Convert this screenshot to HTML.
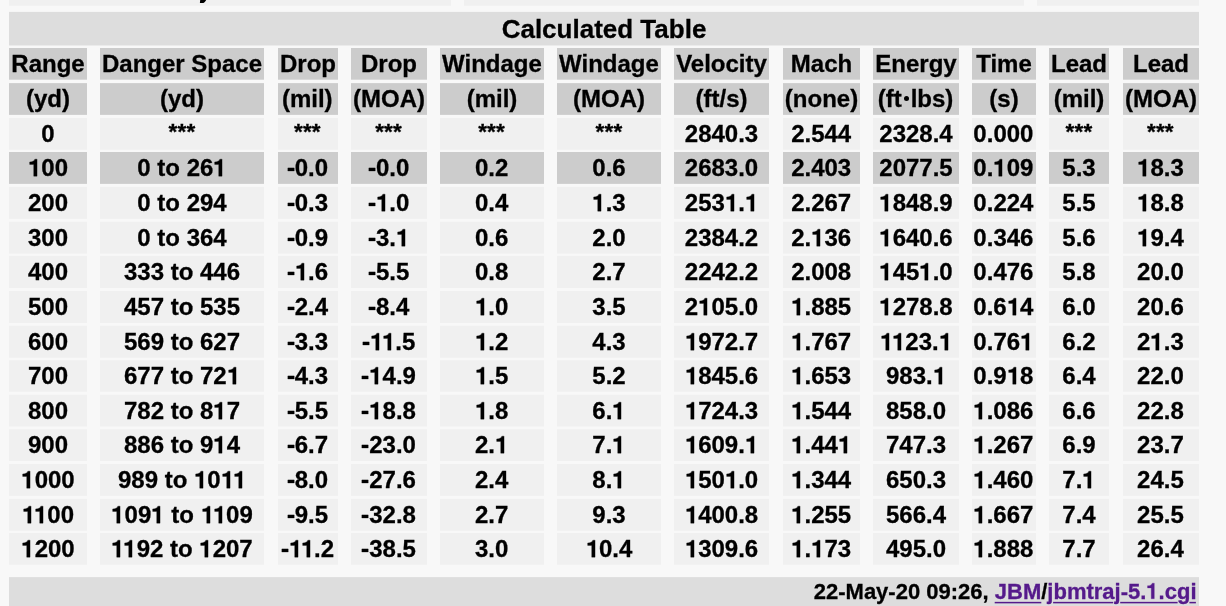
<!DOCTYPE html>
<html><head><meta charset="utf-8"><title>Calculated Table</title>
<style>
html,body{margin:0;padding:0;}
body{width:1226px;height:606px;overflow:hidden;position:relative;background:#f8f8f8;font-family:"Liberation Sans",sans-serif;font-weight:bold;color:#000;font-size:24px;line-height:normal;}
#bg{position:absolute;left:0;top:0;}
#tx{position:absolute;left:0;top:0;width:1226px;height:606px;will-change:transform;-webkit-text-stroke:0.30px currentColor;}
.c{position:absolute;box-sizing:border-box;padding:2px 0 0 0;text-align:center;white-space:nowrap;height:32px;}
.t{position:absolute;left:9px;width:1190px;box-sizing:border-box;white-space:nowrap;}
a{color:#551a8b;text-decoration:none;}
.as{font-size:22.5px;position:relative;top:-3px;letter-spacing:0.2px;}
.o{display:inline-block;width:0.556em;height:0.716em;vertical-align:baseline;overflow:visible;fill:currentColor;stroke:currentColor;stroke-width:12.5;}
.o.k{margin-left:-0.055em;}
.o.hy{width:0.333em;}
.dot{display:inline-block;width:8px;height:10px;position:relative;}
.dot i{position:absolute;left:1.2px;top:-1.2px;width:5.2px;height:5.2px;border-radius:50%;background:#000;}
</style></head><body>

<svg id="bg" width="1226" height="606" viewBox="0 0 1226 606">
<rect x="9.00" y="0.00" width="442.00" height="5.70" fill="#f0f0f0"/>
<rect x="464.00" y="0.00" width="560.00" height="5.70" fill="#f0f0f0"/>
<rect x="1037.00" y="0.00" width="162.00" height="5.70" fill="#f0f0f0"/>
<path d="M200.2 0 L206.2 0 L205.4 1.3 Q204.7 2.6 203.4 2.9 L199.9 2.9 Z" fill="#000"/>
<rect x="9.00" y="11.90" width="1190.00" height="33.60" fill="#dddddd"/>
<rect x="9.00" y="577.10" width="1190.00" height="30.00" fill="#dddddd"/>
<rect x="9.00" y="48.00" width="78.00" height="31.70" fill="#cccccc"/>
<rect x="100.00" y="48.00" width="164.00" height="31.70" fill="#cccccc"/>
<rect x="278.00" y="48.00" width="60.00" height="31.70" fill="#cccccc"/>
<rect x="351.00" y="48.00" width="76.00" height="31.70" fill="#cccccc"/>
<rect x="440.00" y="48.00" width="104.00" height="31.70" fill="#cccccc"/>
<rect x="557.00" y="48.00" width="104.00" height="31.70" fill="#cccccc"/>
<rect x="674.00" y="48.00" width="95.00" height="31.70" fill="#cccccc"/>
<rect x="783.00" y="48.00" width="77.00" height="31.70" fill="#cccccc"/>
<rect x="873.00" y="48.00" width="86.00" height="31.70" fill="#cccccc"/>
<rect x="972.00" y="48.00" width="64.00" height="31.70" fill="#cccccc"/>
<rect x="1049.00" y="48.00" width="60.00" height="31.70" fill="#cccccc"/>
<rect x="1123.00" y="48.00" width="76.00" height="31.70" fill="#cccccc"/>
<rect x="9.00" y="83.10" width="78.00" height="31.80" fill="#cccccc"/>
<rect x="100.00" y="83.10" width="164.00" height="31.80" fill="#cccccc"/>
<rect x="278.00" y="83.10" width="60.00" height="31.80" fill="#cccccc"/>
<rect x="351.00" y="83.10" width="76.00" height="31.80" fill="#cccccc"/>
<rect x="440.00" y="83.10" width="104.00" height="31.80" fill="#cccccc"/>
<rect x="557.00" y="83.10" width="104.00" height="31.80" fill="#cccccc"/>
<rect x="674.00" y="83.10" width="95.00" height="31.80" fill="#cccccc"/>
<rect x="783.00" y="83.10" width="77.00" height="31.80" fill="#cccccc"/>
<rect x="873.00" y="83.10" width="86.00" height="31.80" fill="#cccccc"/>
<rect x="972.00" y="83.10" width="64.00" height="31.80" fill="#cccccc"/>
<rect x="1049.00" y="83.10" width="60.00" height="31.80" fill="#cccccc"/>
<rect x="1123.00" y="83.10" width="76.00" height="31.80" fill="#cccccc"/>
<rect x="9.00" y="118.00" width="78.00" height="31.80" fill="#f0f0f0"/>
<rect x="100.00" y="118.00" width="164.00" height="31.80" fill="#f0f0f0"/>
<rect x="278.00" y="118.00" width="60.00" height="31.80" fill="#f0f0f0"/>
<rect x="351.00" y="118.00" width="76.00" height="31.80" fill="#f0f0f0"/>
<rect x="440.00" y="118.00" width="104.00" height="31.80" fill="#f0f0f0"/>
<rect x="557.00" y="118.00" width="104.00" height="31.80" fill="#f0f0f0"/>
<rect x="674.00" y="118.00" width="95.00" height="31.80" fill="#f0f0f0"/>
<rect x="783.00" y="118.00" width="77.00" height="31.80" fill="#f0f0f0"/>
<rect x="873.00" y="118.00" width="86.00" height="31.80" fill="#f0f0f0"/>
<rect x="972.00" y="118.00" width="64.00" height="31.80" fill="#f0f0f0"/>
<rect x="1049.00" y="118.00" width="60.00" height="31.80" fill="#f0f0f0"/>
<rect x="1123.00" y="118.00" width="76.00" height="31.80" fill="#f0f0f0"/>
<rect x="9.00" y="152.00" width="78.00" height="31.90" fill="#cccccc"/>
<rect x="100.00" y="152.00" width="164.00" height="31.90" fill="#cccccc"/>
<rect x="278.00" y="152.00" width="60.00" height="31.90" fill="#cccccc"/>
<rect x="351.00" y="152.00" width="76.00" height="31.90" fill="#cccccc"/>
<rect x="440.00" y="152.00" width="104.00" height="31.90" fill="#cccccc"/>
<rect x="557.00" y="152.00" width="104.00" height="31.90" fill="#cccccc"/>
<rect x="674.00" y="152.00" width="95.00" height="31.90" fill="#cccccc"/>
<rect x="783.00" y="152.00" width="77.00" height="31.90" fill="#cccccc"/>
<rect x="873.00" y="152.00" width="86.00" height="31.90" fill="#cccccc"/>
<rect x="972.00" y="152.00" width="64.00" height="31.90" fill="#cccccc"/>
<rect x="1049.00" y="152.00" width="60.00" height="31.90" fill="#cccccc"/>
<rect x="1123.00" y="152.00" width="76.00" height="31.90" fill="#cccccc"/>
<rect x="9.00" y="186.90" width="78.00" height="31.95" fill="#f0f0f0"/>
<rect x="100.00" y="186.90" width="164.00" height="31.95" fill="#f0f0f0"/>
<rect x="278.00" y="186.90" width="60.00" height="31.95" fill="#f0f0f0"/>
<rect x="351.00" y="186.90" width="76.00" height="31.95" fill="#f0f0f0"/>
<rect x="440.00" y="186.90" width="104.00" height="31.95" fill="#f0f0f0"/>
<rect x="557.00" y="186.90" width="104.00" height="31.95" fill="#f0f0f0"/>
<rect x="674.00" y="186.90" width="95.00" height="31.95" fill="#f0f0f0"/>
<rect x="783.00" y="186.90" width="77.00" height="31.95" fill="#f0f0f0"/>
<rect x="873.00" y="186.90" width="86.00" height="31.95" fill="#f0f0f0"/>
<rect x="972.00" y="186.90" width="64.00" height="31.95" fill="#f0f0f0"/>
<rect x="1049.00" y="186.90" width="60.00" height="31.95" fill="#f0f0f0"/>
<rect x="1123.00" y="186.90" width="76.00" height="31.95" fill="#f0f0f0"/>
<rect x="9.00" y="221.80" width="78.00" height="31.80" fill="#f0f0f0"/>
<rect x="100.00" y="221.80" width="164.00" height="31.80" fill="#f0f0f0"/>
<rect x="278.00" y="221.80" width="60.00" height="31.80" fill="#f0f0f0"/>
<rect x="351.00" y="221.80" width="76.00" height="31.80" fill="#f0f0f0"/>
<rect x="440.00" y="221.80" width="104.00" height="31.80" fill="#f0f0f0"/>
<rect x="557.00" y="221.80" width="104.00" height="31.80" fill="#f0f0f0"/>
<rect x="674.00" y="221.80" width="95.00" height="31.80" fill="#f0f0f0"/>
<rect x="783.00" y="221.80" width="77.00" height="31.80" fill="#f0f0f0"/>
<rect x="873.00" y="221.80" width="86.00" height="31.80" fill="#f0f0f0"/>
<rect x="972.00" y="221.80" width="64.00" height="31.80" fill="#f0f0f0"/>
<rect x="1049.00" y="221.80" width="60.00" height="31.80" fill="#f0f0f0"/>
<rect x="1123.00" y="221.80" width="76.00" height="31.80" fill="#f0f0f0"/>
<rect x="9.00" y="255.90" width="78.00" height="32.10" fill="#f0f0f0"/>
<rect x="100.00" y="255.90" width="164.00" height="32.10" fill="#f0f0f0"/>
<rect x="278.00" y="255.90" width="60.00" height="32.10" fill="#f0f0f0"/>
<rect x="351.00" y="255.90" width="76.00" height="32.10" fill="#f0f0f0"/>
<rect x="440.00" y="255.90" width="104.00" height="32.10" fill="#f0f0f0"/>
<rect x="557.00" y="255.90" width="104.00" height="32.10" fill="#f0f0f0"/>
<rect x="674.00" y="255.90" width="95.00" height="32.10" fill="#f0f0f0"/>
<rect x="783.00" y="255.90" width="77.00" height="32.10" fill="#f0f0f0"/>
<rect x="873.00" y="255.90" width="86.00" height="32.10" fill="#f0f0f0"/>
<rect x="972.00" y="255.90" width="64.00" height="32.10" fill="#f0f0f0"/>
<rect x="1049.00" y="255.90" width="60.00" height="32.10" fill="#f0f0f0"/>
<rect x="1123.00" y="255.90" width="76.00" height="32.10" fill="#f0f0f0"/>
<rect x="9.00" y="291.00" width="78.00" height="32.00" fill="#f0f0f0"/>
<rect x="100.00" y="291.00" width="164.00" height="32.00" fill="#f0f0f0"/>
<rect x="278.00" y="291.00" width="60.00" height="32.00" fill="#f0f0f0"/>
<rect x="351.00" y="291.00" width="76.00" height="32.00" fill="#f0f0f0"/>
<rect x="440.00" y="291.00" width="104.00" height="32.00" fill="#f0f0f0"/>
<rect x="557.00" y="291.00" width="104.00" height="32.00" fill="#f0f0f0"/>
<rect x="674.00" y="291.00" width="95.00" height="32.00" fill="#f0f0f0"/>
<rect x="783.00" y="291.00" width="77.00" height="32.00" fill="#f0f0f0"/>
<rect x="873.00" y="291.00" width="86.00" height="32.00" fill="#f0f0f0"/>
<rect x="972.00" y="291.00" width="64.00" height="32.00" fill="#f0f0f0"/>
<rect x="1049.00" y="291.00" width="60.00" height="32.00" fill="#f0f0f0"/>
<rect x="1123.00" y="291.00" width="76.00" height="32.00" fill="#f0f0f0"/>
<rect x="9.00" y="325.70" width="78.00" height="32.10" fill="#f0f0f0"/>
<rect x="100.00" y="325.70" width="164.00" height="32.10" fill="#f0f0f0"/>
<rect x="278.00" y="325.70" width="60.00" height="32.10" fill="#f0f0f0"/>
<rect x="351.00" y="325.70" width="76.00" height="32.10" fill="#f0f0f0"/>
<rect x="440.00" y="325.70" width="104.00" height="32.10" fill="#f0f0f0"/>
<rect x="557.00" y="325.70" width="104.00" height="32.10" fill="#f0f0f0"/>
<rect x="674.00" y="325.70" width="95.00" height="32.10" fill="#f0f0f0"/>
<rect x="783.00" y="325.70" width="77.00" height="32.10" fill="#f0f0f0"/>
<rect x="873.00" y="325.70" width="86.00" height="32.10" fill="#f0f0f0"/>
<rect x="972.00" y="325.70" width="64.00" height="32.10" fill="#f0f0f0"/>
<rect x="1049.00" y="325.70" width="60.00" height="32.10" fill="#f0f0f0"/>
<rect x="1123.00" y="325.70" width="76.00" height="32.10" fill="#f0f0f0"/>
<rect x="9.00" y="360.20" width="78.00" height="31.60" fill="#f0f0f0"/>
<rect x="100.00" y="360.20" width="164.00" height="31.60" fill="#f0f0f0"/>
<rect x="278.00" y="360.20" width="60.00" height="31.60" fill="#f0f0f0"/>
<rect x="351.00" y="360.20" width="76.00" height="31.60" fill="#f0f0f0"/>
<rect x="440.00" y="360.20" width="104.00" height="31.60" fill="#f0f0f0"/>
<rect x="557.00" y="360.20" width="104.00" height="31.60" fill="#f0f0f0"/>
<rect x="674.00" y="360.20" width="95.00" height="31.60" fill="#f0f0f0"/>
<rect x="783.00" y="360.20" width="77.00" height="31.60" fill="#f0f0f0"/>
<rect x="873.00" y="360.20" width="86.00" height="31.60" fill="#f0f0f0"/>
<rect x="972.00" y="360.20" width="64.00" height="31.60" fill="#f0f0f0"/>
<rect x="1049.00" y="360.20" width="60.00" height="31.60" fill="#f0f0f0"/>
<rect x="1123.00" y="360.20" width="76.00" height="31.60" fill="#f0f0f0"/>
<rect x="9.00" y="394.75" width="78.00" height="31.75" fill="#f0f0f0"/>
<rect x="100.00" y="394.75" width="164.00" height="31.75" fill="#f0f0f0"/>
<rect x="278.00" y="394.75" width="60.00" height="31.75" fill="#f0f0f0"/>
<rect x="351.00" y="394.75" width="76.00" height="31.75" fill="#f0f0f0"/>
<rect x="440.00" y="394.75" width="104.00" height="31.75" fill="#f0f0f0"/>
<rect x="557.00" y="394.75" width="104.00" height="31.75" fill="#f0f0f0"/>
<rect x="674.00" y="394.75" width="95.00" height="31.75" fill="#f0f0f0"/>
<rect x="783.00" y="394.75" width="77.00" height="31.75" fill="#f0f0f0"/>
<rect x="873.00" y="394.75" width="86.00" height="31.75" fill="#f0f0f0"/>
<rect x="972.00" y="394.75" width="64.00" height="31.75" fill="#f0f0f0"/>
<rect x="1049.00" y="394.75" width="60.00" height="31.75" fill="#f0f0f0"/>
<rect x="1123.00" y="394.75" width="76.00" height="31.75" fill="#f0f0f0"/>
<rect x="9.00" y="429.30" width="78.00" height="31.70" fill="#f0f0f0"/>
<rect x="100.00" y="429.30" width="164.00" height="31.70" fill="#f0f0f0"/>
<rect x="278.00" y="429.30" width="60.00" height="31.70" fill="#f0f0f0"/>
<rect x="351.00" y="429.30" width="76.00" height="31.70" fill="#f0f0f0"/>
<rect x="440.00" y="429.30" width="104.00" height="31.70" fill="#f0f0f0"/>
<rect x="557.00" y="429.30" width="104.00" height="31.70" fill="#f0f0f0"/>
<rect x="674.00" y="429.30" width="95.00" height="31.70" fill="#f0f0f0"/>
<rect x="783.00" y="429.30" width="77.00" height="31.70" fill="#f0f0f0"/>
<rect x="873.00" y="429.30" width="86.00" height="31.70" fill="#f0f0f0"/>
<rect x="972.00" y="429.30" width="64.00" height="31.70" fill="#f0f0f0"/>
<rect x="1049.00" y="429.30" width="60.00" height="31.70" fill="#f0f0f0"/>
<rect x="1123.00" y="429.30" width="76.00" height="31.70" fill="#f0f0f0"/>
<rect x="9.00" y="464.00" width="78.00" height="31.90" fill="#f0f0f0"/>
<rect x="100.00" y="464.00" width="164.00" height="31.90" fill="#f0f0f0"/>
<rect x="278.00" y="464.00" width="60.00" height="31.90" fill="#f0f0f0"/>
<rect x="351.00" y="464.00" width="76.00" height="31.90" fill="#f0f0f0"/>
<rect x="440.00" y="464.00" width="104.00" height="31.90" fill="#f0f0f0"/>
<rect x="557.00" y="464.00" width="104.00" height="31.90" fill="#f0f0f0"/>
<rect x="674.00" y="464.00" width="95.00" height="31.90" fill="#f0f0f0"/>
<rect x="783.00" y="464.00" width="77.00" height="31.90" fill="#f0f0f0"/>
<rect x="873.00" y="464.00" width="86.00" height="31.90" fill="#f0f0f0"/>
<rect x="972.00" y="464.00" width="64.00" height="31.90" fill="#f0f0f0"/>
<rect x="1049.00" y="464.00" width="60.00" height="31.90" fill="#f0f0f0"/>
<rect x="1123.00" y="464.00" width="76.00" height="31.90" fill="#f0f0f0"/>
<rect x="9.00" y="498.90" width="78.00" height="31.85" fill="#f0f0f0"/>
<rect x="100.00" y="498.90" width="164.00" height="31.85" fill="#f0f0f0"/>
<rect x="278.00" y="498.90" width="60.00" height="31.85" fill="#f0f0f0"/>
<rect x="351.00" y="498.90" width="76.00" height="31.85" fill="#f0f0f0"/>
<rect x="440.00" y="498.90" width="104.00" height="31.85" fill="#f0f0f0"/>
<rect x="557.00" y="498.90" width="104.00" height="31.85" fill="#f0f0f0"/>
<rect x="674.00" y="498.90" width="95.00" height="31.85" fill="#f0f0f0"/>
<rect x="783.00" y="498.90" width="77.00" height="31.85" fill="#f0f0f0"/>
<rect x="873.00" y="498.90" width="86.00" height="31.85" fill="#f0f0f0"/>
<rect x="972.00" y="498.90" width="64.00" height="31.85" fill="#f0f0f0"/>
<rect x="1049.00" y="498.90" width="60.00" height="31.85" fill="#f0f0f0"/>
<rect x="1123.00" y="498.90" width="76.00" height="31.85" fill="#f0f0f0"/>
<rect x="9.00" y="533.00" width="78.00" height="31.70" fill="#f0f0f0"/>
<rect x="100.00" y="533.00" width="164.00" height="31.70" fill="#f0f0f0"/>
<rect x="278.00" y="533.00" width="60.00" height="31.70" fill="#f0f0f0"/>
<rect x="351.00" y="533.00" width="76.00" height="31.70" fill="#f0f0f0"/>
<rect x="440.00" y="533.00" width="104.00" height="31.70" fill="#f0f0f0"/>
<rect x="557.00" y="533.00" width="104.00" height="31.70" fill="#f0f0f0"/>
<rect x="674.00" y="533.00" width="95.00" height="31.70" fill="#f0f0f0"/>
<rect x="783.00" y="533.00" width="77.00" height="31.70" fill="#f0f0f0"/>
<rect x="873.00" y="533.00" width="86.00" height="31.70" fill="#f0f0f0"/>
<rect x="972.00" y="533.00" width="64.00" height="31.70" fill="#f0f0f0"/>
<rect x="1049.00" y="533.00" width="60.00" height="31.70" fill="#f0f0f0"/>
<rect x="1123.00" y="533.00" width="76.00" height="31.70" fill="#f0f0f0"/>
<rect x="994.70" y="601.85" width="46.60" height="1.50" fill="#551a8b"/>
<rect x="1053.10" y="601.85" width="60.10" height="1.50" fill="#551a8b"/>
<rect x="1120.20" y="601.85" width="57.40" height="1.50" fill="#551a8b"/>
<rect x="1189.40" y="601.85" width="6.50" height="1.50" fill="#551a8b"/>
</svg>
<div id="tx">
<div class="t" style="top:12px;height:33.5px;font-size:26px;text-align:center;padding-top:2px;">Calculated Table</div>
<div class="c" style="left:9.00px;top:48.00px;width:78px">Range</div>
<div class="c" style="left:100.00px;top:48.00px;width:164px">Danger Space</div>
<div class="c" style="left:278.00px;top:48.00px;width:60px">Drop</div>
<div class="c" style="left:351.00px;top:48.00px;width:76px">Drop</div>
<div class="c" style="left:440.00px;top:48.00px;width:104px">Windage</div>
<div class="c" style="left:557.00px;top:48.00px;width:104px">Windage</div>
<div class="c" style="left:674.00px;top:48.00px;width:95px">Velocity</div>
<div class="c" style="left:783.00px;top:48.00px;width:77px">Mach</div>
<div class="c" style="left:873.00px;top:48.00px;width:86px">Energy</div>
<div class="c" style="left:972.00px;top:48.00px;width:64px">Time</div>
<div class="c" style="left:1049.00px;top:48.00px;width:60px">Lead</div>
<div class="c" style="left:1123.00px;top:48.00px;width:76px">Lead</div>
<div class="c" style="left:9.00px;top:83.00px;width:78px">(yd)</div>
<div class="c" style="left:100.00px;top:83.00px;width:164px">(yd)</div>
<div class="c" style="left:277.30px;top:83.00px;width:60px">(mil)</div>
<div class="c" style="left:351.00px;top:83.00px;width:76px">(MOA)</div>
<div class="c" style="left:440.00px;top:83.00px;width:104px">(mil)</div>
<div class="c" style="left:557.00px;top:83.00px;width:104px">(MOA)</div>
<div class="c" style="left:674.00px;top:83.00px;width:95px">(ft/s)</div>
<div class="c" style="left:783.00px;top:83.00px;width:77px">(none)</div>
<div class="c" style="left:873.00px;top:83.00px;width:86px"><span style="position:relative;left:-0.9px">(ft</span><span class="dot"><i></i></span>lbs)</div>
<div class="c" style="left:972.00px;top:83.00px;width:64px">(s)</div>
<div class="c" style="left:1049.00px;top:83.00px;width:60px">(mil)</div>
<div class="c" style="left:1123.00px;top:83.00px;width:76px">(MOA)</div>
<div class="c" style="left:9.00px;top:118.00px;width:78px">0</div>
<div class="c" style="left:100.00px;top:118.00px;width:164px"><span class="as">***</span></div>
<div class="c" style="left:277.40px;top:118.00px;width:60px"><span class="as">***</span></div>
<div class="c" style="left:350.60px;top:118.00px;width:76px"><span class="as">***</span></div>
<div class="c" style="left:439.60px;top:118.00px;width:104px"><span class="as">***</span></div>
<div class="c" style="left:557.00px;top:118.00px;width:104px"><span class="as">***</span></div>
<div class="c" style="left:674.00px;top:118.00px;width:95px">2840.3</div>
<div class="c" style="left:782.70px;top:118.00px;width:77px">2.544</div>
<div class="c" style="left:873.00px;top:118.00px;width:86px">2328.4</div>
<div class="c" style="left:971.40px;top:118.00px;width:64px">0.000</div>
<div class="c" style="left:1049.00px;top:118.00px;width:60px"><span class="as">***</span></div>
<div class="c" style="left:1122.40px;top:118.00px;width:76px"><span class="as">***</span></div>
<div class="c" style="left:9.00px;top:152.00px;width:78px"><svg class="o" viewBox="0 -716 556 716"><path d="M286 -710 L378 -710 L378 0 L238 0 L238 -491 L69 -491 L69 -592 C186 -594 258 -636 286 -710 Z"/></svg>00</div>
<div class="c" style="left:100.00px;top:152.00px;width:164px">0 to 26<svg class="o" viewBox="0 -716 556 716"><path d="M286 -710 L378 -710 L378 0 L238 0 L238 -491 L69 -491 L69 -592 C186 -594 258 -636 286 -710 Z"/></svg></div>
<div class="c" style="left:277.40px;top:152.00px;width:60px"><svg class="o hy" viewBox="0 -716 333 716"><path d="M34 -345 H302 V-215 H34 Z"/></svg>0.0</div>
<div class="c" style="left:350.60px;top:152.00px;width:76px"><svg class="o hy" viewBox="0 -716 333 716"><path d="M34 -345 H302 V-215 H34 Z"/></svg>0.0</div>
<div class="c" style="left:439.60px;top:152.00px;width:104px">0.2</div>
<div class="c" style="left:557.00px;top:152.00px;width:104px">0.6</div>
<div class="c" style="left:674.00px;top:152.00px;width:95px">2683.0</div>
<div class="c" style="left:782.70px;top:152.00px;width:77px">2.403</div>
<div class="c" style="left:873.00px;top:152.00px;width:86px">2077.5</div>
<div class="c" style="left:971.40px;top:152.00px;width:64px">0.<svg class="o" viewBox="0 -716 556 716"><path d="M286 -710 L378 -710 L378 0 L238 0 L238 -491 L69 -491 L69 -592 C186 -594 258 -636 286 -710 Z"/></svg>09</div>
<div class="c" style="left:1049.00px;top:152.00px;width:60px">5.3</div>
<div class="c" style="left:1122.40px;top:152.00px;width:76px"><svg class="o" viewBox="0 -716 556 716"><path d="M286 -710 L378 -710 L378 0 L238 0 L238 -491 L69 -491 L69 -592 C186 -594 258 -636 286 -710 Z"/></svg>8.3</div>
<div class="c" style="left:9.00px;top:187.00px;width:78px">200</div>
<div class="c" style="left:100.00px;top:187.00px;width:164px">0 to 294</div>
<div class="c" style="left:277.40px;top:187.00px;width:60px"><svg class="o hy" viewBox="0 -716 333 716"><path d="M34 -345 H302 V-215 H34 Z"/></svg>0.3</div>
<div class="c" style="left:350.60px;top:187.00px;width:76px"><svg class="o hy" viewBox="0 -716 333 716"><path d="M34 -345 H302 V-215 H34 Z"/></svg><svg class="o" viewBox="0 -716 556 716"><path d="M286 -710 L378 -710 L378 0 L238 0 L238 -491 L69 -491 L69 -592 C186 -594 258 -636 286 -710 Z"/></svg>.0</div>
<div class="c" style="left:439.60px;top:187.00px;width:104px">0.4</div>
<div class="c" style="left:557.00px;top:187.00px;width:104px"><svg class="o" viewBox="0 -716 556 716"><path d="M286 -710 L378 -710 L378 0 L238 0 L238 -491 L69 -491 L69 -592 C186 -594 258 -636 286 -710 Z"/></svg>.3</div>
<div class="c" style="left:674.00px;top:187.00px;width:95px">253<svg class="o" viewBox="0 -716 556 716"><path d="M286 -710 L378 -710 L378 0 L238 0 L238 -491 L69 -491 L69 -592 C186 -594 258 -636 286 -710 Z"/></svg>.<svg class="o" viewBox="0 -716 556 716"><path d="M286 -710 L378 -710 L378 0 L238 0 L238 -491 L69 -491 L69 -592 C186 -594 258 -636 286 -710 Z"/></svg></div>
<div class="c" style="left:782.70px;top:187.00px;width:77px">2.267</div>
<div class="c" style="left:873.00px;top:187.00px;width:86px"><svg class="o" viewBox="0 -716 556 716"><path d="M286 -710 L378 -710 L378 0 L238 0 L238 -491 L69 -491 L69 -592 C186 -594 258 -636 286 -710 Z"/></svg>848.9</div>
<div class="c" style="left:971.40px;top:187.00px;width:64px">0.224</div>
<div class="c" style="left:1049.00px;top:187.00px;width:60px">5.5</div>
<div class="c" style="left:1122.40px;top:187.00px;width:76px"><svg class="o" viewBox="0 -716 556 716"><path d="M286 -710 L378 -710 L378 0 L238 0 L238 -491 L69 -491 L69 -592 C186 -594 258 -636 286 -710 Z"/></svg>8.8</div>
<div class="c" style="left:9.00px;top:222.00px;width:78px">300</div>
<div class="c" style="left:100.00px;top:222.00px;width:164px">0 to 364</div>
<div class="c" style="left:277.40px;top:222.00px;width:60px"><svg class="o hy" viewBox="0 -716 333 716"><path d="M34 -345 H302 V-215 H34 Z"/></svg>0.9</div>
<div class="c" style="left:350.60px;top:222.00px;width:76px"><svg class="o hy" viewBox="0 -716 333 716"><path d="M34 -345 H302 V-215 H34 Z"/></svg>3.<svg class="o" viewBox="0 -716 556 716"><path d="M286 -710 L378 -710 L378 0 L238 0 L238 -491 L69 -491 L69 -592 C186 -594 258 -636 286 -710 Z"/></svg></div>
<div class="c" style="left:439.60px;top:222.00px;width:104px">0.6</div>
<div class="c" style="left:557.00px;top:222.00px;width:104px">2.0</div>
<div class="c" style="left:674.00px;top:222.00px;width:95px">2384.2</div>
<div class="c" style="left:782.70px;top:222.00px;width:77px">2.<svg class="o" viewBox="0 -716 556 716"><path d="M286 -710 L378 -710 L378 0 L238 0 L238 -491 L69 -491 L69 -592 C186 -594 258 -636 286 -710 Z"/></svg>36</div>
<div class="c" style="left:873.00px;top:222.00px;width:86px"><svg class="o" viewBox="0 -716 556 716"><path d="M286 -710 L378 -710 L378 0 L238 0 L238 -491 L69 -491 L69 -592 C186 -594 258 -636 286 -710 Z"/></svg>640.6</div>
<div class="c" style="left:971.40px;top:222.00px;width:64px">0.346</div>
<div class="c" style="left:1049.00px;top:222.00px;width:60px">5.6</div>
<div class="c" style="left:1122.40px;top:222.00px;width:76px"><svg class="o" viewBox="0 -716 556 716"><path d="M286 -710 L378 -710 L378 0 L238 0 L238 -491 L69 -491 L69 -592 C186 -594 258 -636 286 -710 Z"/></svg>9.4</div>
<div class="c" style="left:9.00px;top:256.00px;width:78px">400</div>
<div class="c" style="left:100.00px;top:256.00px;width:164px">333 to 446</div>
<div class="c" style="left:277.40px;top:256.00px;width:60px"><svg class="o hy" viewBox="0 -716 333 716"><path d="M34 -345 H302 V-215 H34 Z"/></svg><svg class="o" viewBox="0 -716 556 716"><path d="M286 -710 L378 -710 L378 0 L238 0 L238 -491 L69 -491 L69 -592 C186 -594 258 -636 286 -710 Z"/></svg>.6</div>
<div class="c" style="left:350.60px;top:256.00px;width:76px"><svg class="o hy" viewBox="0 -716 333 716"><path d="M34 -345 H302 V-215 H34 Z"/></svg>5.5</div>
<div class="c" style="left:439.60px;top:256.00px;width:104px">0.8</div>
<div class="c" style="left:557.00px;top:256.00px;width:104px">2.7</div>
<div class="c" style="left:674.00px;top:256.00px;width:95px">2242.2</div>
<div class="c" style="left:782.70px;top:256.00px;width:77px">2.008</div>
<div class="c" style="left:873.00px;top:256.00px;width:86px"><svg class="o" viewBox="0 -716 556 716"><path d="M286 -710 L378 -710 L378 0 L238 0 L238 -491 L69 -491 L69 -592 C186 -594 258 -636 286 -710 Z"/></svg>45<svg class="o" viewBox="0 -716 556 716"><path d="M286 -710 L378 -710 L378 0 L238 0 L238 -491 L69 -491 L69 -592 C186 -594 258 -636 286 -710 Z"/></svg>.0</div>
<div class="c" style="left:971.40px;top:256.00px;width:64px">0.476</div>
<div class="c" style="left:1049.00px;top:256.00px;width:60px">5.8</div>
<div class="c" style="left:1122.40px;top:256.00px;width:76px">20.0</div>
<div class="c" style="left:9.00px;top:291.00px;width:78px">500</div>
<div class="c" style="left:100.00px;top:291.00px;width:164px">457 to 535</div>
<div class="c" style="left:277.40px;top:291.00px;width:60px"><svg class="o hy" viewBox="0 -716 333 716"><path d="M34 -345 H302 V-215 H34 Z"/></svg>2.4</div>
<div class="c" style="left:350.60px;top:291.00px;width:76px"><svg class="o hy" viewBox="0 -716 333 716"><path d="M34 -345 H302 V-215 H34 Z"/></svg>8.4</div>
<div class="c" style="left:439.60px;top:291.00px;width:104px"><svg class="o" viewBox="0 -716 556 716"><path d="M286 -710 L378 -710 L378 0 L238 0 L238 -491 L69 -491 L69 -592 C186 -594 258 -636 286 -710 Z"/></svg>.0</div>
<div class="c" style="left:557.00px;top:291.00px;width:104px">3.5</div>
<div class="c" style="left:674.00px;top:291.00px;width:95px">2<svg class="o" viewBox="0 -716 556 716"><path d="M286 -710 L378 -710 L378 0 L238 0 L238 -491 L69 -491 L69 -592 C186 -594 258 -636 286 -710 Z"/></svg>05.0</div>
<div class="c" style="left:782.70px;top:291.00px;width:77px"><svg class="o" viewBox="0 -716 556 716"><path d="M286 -710 L378 -710 L378 0 L238 0 L238 -491 L69 -491 L69 -592 C186 -594 258 -636 286 -710 Z"/></svg>.885</div>
<div class="c" style="left:873.00px;top:291.00px;width:86px"><svg class="o" viewBox="0 -716 556 716"><path d="M286 -710 L378 -710 L378 0 L238 0 L238 -491 L69 -491 L69 -592 C186 -594 258 -636 286 -710 Z"/></svg>278.8</div>
<div class="c" style="left:971.40px;top:291.00px;width:64px">0.6<svg class="o" viewBox="0 -716 556 716"><path d="M286 -710 L378 -710 L378 0 L238 0 L238 -491 L69 -491 L69 -592 C186 -594 258 -636 286 -710 Z"/></svg>4</div>
<div class="c" style="left:1049.00px;top:291.00px;width:60px">6.0</div>
<div class="c" style="left:1122.40px;top:291.00px;width:76px">20.6</div>
<div class="c" style="left:9.00px;top:326.00px;width:78px">600</div>
<div class="c" style="left:100.00px;top:326.00px;width:164px">569 to 627</div>
<div class="c" style="left:277.40px;top:326.00px;width:60px"><svg class="o hy" viewBox="0 -716 333 716"><path d="M34 -345 H302 V-215 H34 Z"/></svg>3.3</div>
<div class="c" style="left:350.60px;top:326.00px;width:76px"><svg class="o hy" viewBox="0 -716 333 716"><path d="M34 -345 H302 V-215 H34 Z"/></svg><svg class="o" viewBox="0 -716 556 716"><path d="M286 -710 L378 -710 L378 0 L238 0 L238 -491 L69 -491 L69 -592 C186 -594 258 -636 286 -710 Z"/></svg><svg class="o k" viewBox="0 -716 556 716"><path d="M286 -710 L378 -710 L378 0 L238 0 L238 -491 L69 -491 L69 -592 C186 -594 258 -636 286 -710 Z"/></svg>.5</div>
<div class="c" style="left:439.60px;top:326.00px;width:104px"><svg class="o" viewBox="0 -716 556 716"><path d="M286 -710 L378 -710 L378 0 L238 0 L238 -491 L69 -491 L69 -592 C186 -594 258 -636 286 -710 Z"/></svg>.2</div>
<div class="c" style="left:557.00px;top:326.00px;width:104px">4.3</div>
<div class="c" style="left:674.00px;top:326.00px;width:95px"><svg class="o" viewBox="0 -716 556 716"><path d="M286 -710 L378 -710 L378 0 L238 0 L238 -491 L69 -491 L69 -592 C186 -594 258 -636 286 -710 Z"/></svg>972.7</div>
<div class="c" style="left:782.70px;top:326.00px;width:77px"><svg class="o" viewBox="0 -716 556 716"><path d="M286 -710 L378 -710 L378 0 L238 0 L238 -491 L69 -491 L69 -592 C186 -594 258 -636 286 -710 Z"/></svg>.767</div>
<div class="c" style="left:873.00px;top:326.00px;width:86px"><svg class="o" viewBox="0 -716 556 716"><path d="M286 -710 L378 -710 L378 0 L238 0 L238 -491 L69 -491 L69 -592 C186 -594 258 -636 286 -710 Z"/></svg><svg class="o k" viewBox="0 -716 556 716"><path d="M286 -710 L378 -710 L378 0 L238 0 L238 -491 L69 -491 L69 -592 C186 -594 258 -636 286 -710 Z"/></svg>23.<svg class="o" viewBox="0 -716 556 716"><path d="M286 -710 L378 -710 L378 0 L238 0 L238 -491 L69 -491 L69 -592 C186 -594 258 -636 286 -710 Z"/></svg></div>
<div class="c" style="left:971.40px;top:326.00px;width:64px">0.76<svg class="o" viewBox="0 -716 556 716"><path d="M286 -710 L378 -710 L378 0 L238 0 L238 -491 L69 -491 L69 -592 C186 -594 258 -636 286 -710 Z"/></svg></div>
<div class="c" style="left:1049.00px;top:326.00px;width:60px">6.2</div>
<div class="c" style="left:1122.40px;top:326.00px;width:76px">2<svg class="o" viewBox="0 -716 556 716"><path d="M286 -710 L378 -710 L378 0 L238 0 L238 -491 L69 -491 L69 -592 C186 -594 258 -636 286 -710 Z"/></svg>.3</div>
<div class="c" style="left:9.00px;top:360.00px;width:78px">700</div>
<div class="c" style="left:100.00px;top:360.00px;width:164px">677 to 72<svg class="o" viewBox="0 -716 556 716"><path d="M286 -710 L378 -710 L378 0 L238 0 L238 -491 L69 -491 L69 -592 C186 -594 258 -636 286 -710 Z"/></svg></div>
<div class="c" style="left:277.40px;top:360.00px;width:60px"><svg class="o hy" viewBox="0 -716 333 716"><path d="M34 -345 H302 V-215 H34 Z"/></svg>4.3</div>
<div class="c" style="left:350.60px;top:360.00px;width:76px"><svg class="o hy" viewBox="0 -716 333 716"><path d="M34 -345 H302 V-215 H34 Z"/></svg><svg class="o" viewBox="0 -716 556 716"><path d="M286 -710 L378 -710 L378 0 L238 0 L238 -491 L69 -491 L69 -592 C186 -594 258 -636 286 -710 Z"/></svg>4.9</div>
<div class="c" style="left:439.60px;top:360.00px;width:104px"><svg class="o" viewBox="0 -716 556 716"><path d="M286 -710 L378 -710 L378 0 L238 0 L238 -491 L69 -491 L69 -592 C186 -594 258 -636 286 -710 Z"/></svg>.5</div>
<div class="c" style="left:557.00px;top:360.00px;width:104px">5.2</div>
<div class="c" style="left:674.00px;top:360.00px;width:95px"><svg class="o" viewBox="0 -716 556 716"><path d="M286 -710 L378 -710 L378 0 L238 0 L238 -491 L69 -491 L69 -592 C186 -594 258 -636 286 -710 Z"/></svg>845.6</div>
<div class="c" style="left:782.70px;top:360.00px;width:77px"><svg class="o" viewBox="0 -716 556 716"><path d="M286 -710 L378 -710 L378 0 L238 0 L238 -491 L69 -491 L69 -592 C186 -594 258 -636 286 -710 Z"/></svg>.653</div>
<div class="c" style="left:873.00px;top:360.00px;width:86px">983.<svg class="o" viewBox="0 -716 556 716"><path d="M286 -710 L378 -710 L378 0 L238 0 L238 -491 L69 -491 L69 -592 C186 -594 258 -636 286 -710 Z"/></svg></div>
<div class="c" style="left:971.40px;top:360.00px;width:64px">0.9<svg class="o" viewBox="0 -716 556 716"><path d="M286 -710 L378 -710 L378 0 L238 0 L238 -491 L69 -491 L69 -592 C186 -594 258 -636 286 -710 Z"/></svg>8</div>
<div class="c" style="left:1049.00px;top:360.00px;width:60px">6.4</div>
<div class="c" style="left:1122.40px;top:360.00px;width:76px">22.0</div>
<div class="c" style="left:9.00px;top:395.00px;width:78px">800</div>
<div class="c" style="left:100.00px;top:395.00px;width:164px">782 to 8<svg class="o" viewBox="0 -716 556 716"><path d="M286 -710 L378 -710 L378 0 L238 0 L238 -491 L69 -491 L69 -592 C186 -594 258 -636 286 -710 Z"/></svg>7</div>
<div class="c" style="left:277.40px;top:395.00px;width:60px"><svg class="o hy" viewBox="0 -716 333 716"><path d="M34 -345 H302 V-215 H34 Z"/></svg>5.5</div>
<div class="c" style="left:350.60px;top:395.00px;width:76px"><svg class="o hy" viewBox="0 -716 333 716"><path d="M34 -345 H302 V-215 H34 Z"/></svg><svg class="o" viewBox="0 -716 556 716"><path d="M286 -710 L378 -710 L378 0 L238 0 L238 -491 L69 -491 L69 -592 C186 -594 258 -636 286 -710 Z"/></svg>8.8</div>
<div class="c" style="left:439.60px;top:395.00px;width:104px"><svg class="o" viewBox="0 -716 556 716"><path d="M286 -710 L378 -710 L378 0 L238 0 L238 -491 L69 -491 L69 -592 C186 -594 258 -636 286 -710 Z"/></svg>.8</div>
<div class="c" style="left:557.00px;top:395.00px;width:104px">6.<svg class="o" viewBox="0 -716 556 716"><path d="M286 -710 L378 -710 L378 0 L238 0 L238 -491 L69 -491 L69 -592 C186 -594 258 -636 286 -710 Z"/></svg></div>
<div class="c" style="left:674.00px;top:395.00px;width:95px"><svg class="o" viewBox="0 -716 556 716"><path d="M286 -710 L378 -710 L378 0 L238 0 L238 -491 L69 -491 L69 -592 C186 -594 258 -636 286 -710 Z"/></svg>724.3</div>
<div class="c" style="left:782.70px;top:395.00px;width:77px"><svg class="o" viewBox="0 -716 556 716"><path d="M286 -710 L378 -710 L378 0 L238 0 L238 -491 L69 -491 L69 -592 C186 -594 258 -636 286 -710 Z"/></svg>.544</div>
<div class="c" style="left:873.00px;top:395.00px;width:86px">858.0</div>
<div class="c" style="left:971.40px;top:395.00px;width:64px"><svg class="o" viewBox="0 -716 556 716"><path d="M286 -710 L378 -710 L378 0 L238 0 L238 -491 L69 -491 L69 -592 C186 -594 258 -636 286 -710 Z"/></svg>.086</div>
<div class="c" style="left:1049.00px;top:395.00px;width:60px">6.6</div>
<div class="c" style="left:1122.40px;top:395.00px;width:76px">22.8</div>
<div class="c" style="left:9.00px;top:429.00px;width:78px">900</div>
<div class="c" style="left:100.00px;top:429.00px;width:164px">886 to 9<svg class="o" viewBox="0 -716 556 716"><path d="M286 -710 L378 -710 L378 0 L238 0 L238 -491 L69 -491 L69 -592 C186 -594 258 -636 286 -710 Z"/></svg>4</div>
<div class="c" style="left:277.40px;top:429.00px;width:60px"><svg class="o hy" viewBox="0 -716 333 716"><path d="M34 -345 H302 V-215 H34 Z"/></svg>6.7</div>
<div class="c" style="left:350.60px;top:429.00px;width:76px"><svg class="o hy" viewBox="0 -716 333 716"><path d="M34 -345 H302 V-215 H34 Z"/></svg>23.0</div>
<div class="c" style="left:439.60px;top:429.00px;width:104px">2.<svg class="o" viewBox="0 -716 556 716"><path d="M286 -710 L378 -710 L378 0 L238 0 L238 -491 L69 -491 L69 -592 C186 -594 258 -636 286 -710 Z"/></svg></div>
<div class="c" style="left:557.00px;top:429.00px;width:104px">7.<svg class="o" viewBox="0 -716 556 716"><path d="M286 -710 L378 -710 L378 0 L238 0 L238 -491 L69 -491 L69 -592 C186 -594 258 -636 286 -710 Z"/></svg></div>
<div class="c" style="left:674.00px;top:429.00px;width:95px"><svg class="o" viewBox="0 -716 556 716"><path d="M286 -710 L378 -710 L378 0 L238 0 L238 -491 L69 -491 L69 -592 C186 -594 258 -636 286 -710 Z"/></svg>609.<svg class="o" viewBox="0 -716 556 716"><path d="M286 -710 L378 -710 L378 0 L238 0 L238 -491 L69 -491 L69 -592 C186 -594 258 -636 286 -710 Z"/></svg></div>
<div class="c" style="left:782.70px;top:429.00px;width:77px"><svg class="o" viewBox="0 -716 556 716"><path d="M286 -710 L378 -710 L378 0 L238 0 L238 -491 L69 -491 L69 -592 C186 -594 258 -636 286 -710 Z"/></svg>.44<svg class="o" viewBox="0 -716 556 716"><path d="M286 -710 L378 -710 L378 0 L238 0 L238 -491 L69 -491 L69 -592 C186 -594 258 -636 286 -710 Z"/></svg></div>
<div class="c" style="left:873.00px;top:429.00px;width:86px">747.3</div>
<div class="c" style="left:971.40px;top:429.00px;width:64px"><svg class="o" viewBox="0 -716 556 716"><path d="M286 -710 L378 -710 L378 0 L238 0 L238 -491 L69 -491 L69 -592 C186 -594 258 -636 286 -710 Z"/></svg>.267</div>
<div class="c" style="left:1049.00px;top:429.00px;width:60px">6.9</div>
<div class="c" style="left:1122.40px;top:429.00px;width:76px">23.7</div>
<div class="c" style="left:9.00px;top:464.00px;width:78px"><svg class="o" viewBox="0 -716 556 716"><path d="M286 -710 L378 -710 L378 0 L238 0 L238 -491 L69 -491 L69 -592 C186 -594 258 -636 286 -710 Z"/></svg>000</div>
<div class="c" style="left:100.00px;top:464.00px;width:164px">989 to <svg class="o" viewBox="0 -716 556 716"><path d="M286 -710 L378 -710 L378 0 L238 0 L238 -491 L69 -491 L69 -592 C186 -594 258 -636 286 -710 Z"/></svg>0<svg class="o" viewBox="0 -716 556 716"><path d="M286 -710 L378 -710 L378 0 L238 0 L238 -491 L69 -491 L69 -592 C186 -594 258 -636 286 -710 Z"/></svg><svg class="o k" viewBox="0 -716 556 716"><path d="M286 -710 L378 -710 L378 0 L238 0 L238 -491 L69 -491 L69 -592 C186 -594 258 -636 286 -710 Z"/></svg></div>
<div class="c" style="left:277.40px;top:464.00px;width:60px"><svg class="o hy" viewBox="0 -716 333 716"><path d="M34 -345 H302 V-215 H34 Z"/></svg>8.0</div>
<div class="c" style="left:350.60px;top:464.00px;width:76px"><svg class="o hy" viewBox="0 -716 333 716"><path d="M34 -345 H302 V-215 H34 Z"/></svg>27.6</div>
<div class="c" style="left:439.60px;top:464.00px;width:104px">2.4</div>
<div class="c" style="left:557.00px;top:464.00px;width:104px">8.<svg class="o" viewBox="0 -716 556 716"><path d="M286 -710 L378 -710 L378 0 L238 0 L238 -491 L69 -491 L69 -592 C186 -594 258 -636 286 -710 Z"/></svg></div>
<div class="c" style="left:674.00px;top:464.00px;width:95px"><svg class="o" viewBox="0 -716 556 716"><path d="M286 -710 L378 -710 L378 0 L238 0 L238 -491 L69 -491 L69 -592 C186 -594 258 -636 286 -710 Z"/></svg>50<svg class="o" viewBox="0 -716 556 716"><path d="M286 -710 L378 -710 L378 0 L238 0 L238 -491 L69 -491 L69 -592 C186 -594 258 -636 286 -710 Z"/></svg>.0</div>
<div class="c" style="left:782.70px;top:464.00px;width:77px"><svg class="o" viewBox="0 -716 556 716"><path d="M286 -710 L378 -710 L378 0 L238 0 L238 -491 L69 -491 L69 -592 C186 -594 258 -636 286 -710 Z"/></svg>.344</div>
<div class="c" style="left:873.00px;top:464.00px;width:86px">650.3</div>
<div class="c" style="left:971.40px;top:464.00px;width:64px"><svg class="o" viewBox="0 -716 556 716"><path d="M286 -710 L378 -710 L378 0 L238 0 L238 -491 L69 -491 L69 -592 C186 -594 258 -636 286 -710 Z"/></svg>.460</div>
<div class="c" style="left:1049.00px;top:464.00px;width:60px">7.<svg class="o" viewBox="0 -716 556 716"><path d="M286 -710 L378 -710 L378 0 L238 0 L238 -491 L69 -491 L69 -592 C186 -594 258 -636 286 -710 Z"/></svg></div>
<div class="c" style="left:1122.40px;top:464.00px;width:76px">24.5</div>
<div class="c" style="left:9.00px;top:499.00px;width:78px"><svg class="o" viewBox="0 -716 556 716"><path d="M286 -710 L378 -710 L378 0 L238 0 L238 -491 L69 -491 L69 -592 C186 -594 258 -636 286 -710 Z"/></svg><svg class="o k" viewBox="0 -716 556 716"><path d="M286 -710 L378 -710 L378 0 L238 0 L238 -491 L69 -491 L69 -592 C186 -594 258 -636 286 -710 Z"/></svg>00</div>
<div class="c" style="left:100.00px;top:499.00px;width:164px"><svg class="o" viewBox="0 -716 556 716"><path d="M286 -710 L378 -710 L378 0 L238 0 L238 -491 L69 -491 L69 -592 C186 -594 258 -636 286 -710 Z"/></svg>09<svg class="o" viewBox="0 -716 556 716"><path d="M286 -710 L378 -710 L378 0 L238 0 L238 -491 L69 -491 L69 -592 C186 -594 258 -636 286 -710 Z"/></svg> to <svg class="o" viewBox="0 -716 556 716"><path d="M286 -710 L378 -710 L378 0 L238 0 L238 -491 L69 -491 L69 -592 C186 -594 258 -636 286 -710 Z"/></svg><svg class="o k" viewBox="0 -716 556 716"><path d="M286 -710 L378 -710 L378 0 L238 0 L238 -491 L69 -491 L69 -592 C186 -594 258 -636 286 -710 Z"/></svg>09</div>
<div class="c" style="left:277.40px;top:499.00px;width:60px"><svg class="o hy" viewBox="0 -716 333 716"><path d="M34 -345 H302 V-215 H34 Z"/></svg>9.5</div>
<div class="c" style="left:350.60px;top:499.00px;width:76px"><svg class="o hy" viewBox="0 -716 333 716"><path d="M34 -345 H302 V-215 H34 Z"/></svg>32.8</div>
<div class="c" style="left:439.60px;top:499.00px;width:104px">2.7</div>
<div class="c" style="left:557.00px;top:499.00px;width:104px">9.3</div>
<div class="c" style="left:674.00px;top:499.00px;width:95px"><svg class="o" viewBox="0 -716 556 716"><path d="M286 -710 L378 -710 L378 0 L238 0 L238 -491 L69 -491 L69 -592 C186 -594 258 -636 286 -710 Z"/></svg>400.8</div>
<div class="c" style="left:782.70px;top:499.00px;width:77px"><svg class="o" viewBox="0 -716 556 716"><path d="M286 -710 L378 -710 L378 0 L238 0 L238 -491 L69 -491 L69 -592 C186 -594 258 -636 286 -710 Z"/></svg>.255</div>
<div class="c" style="left:873.00px;top:499.00px;width:86px">566.4</div>
<div class="c" style="left:971.40px;top:499.00px;width:64px"><svg class="o" viewBox="0 -716 556 716"><path d="M286 -710 L378 -710 L378 0 L238 0 L238 -491 L69 -491 L69 -592 C186 -594 258 -636 286 -710 Z"/></svg>.667</div>
<div class="c" style="left:1049.00px;top:499.00px;width:60px">7.4</div>
<div class="c" style="left:1122.40px;top:499.00px;width:76px">25.5</div>
<div class="c" style="left:9.00px;top:533.00px;width:78px"><svg class="o" viewBox="0 -716 556 716"><path d="M286 -710 L378 -710 L378 0 L238 0 L238 -491 L69 -491 L69 -592 C186 -594 258 -636 286 -710 Z"/></svg>200</div>
<div class="c" style="left:100.00px;top:533.00px;width:164px"><svg class="o" viewBox="0 -716 556 716"><path d="M286 -710 L378 -710 L378 0 L238 0 L238 -491 L69 -491 L69 -592 C186 -594 258 -636 286 -710 Z"/></svg><svg class="o k" viewBox="0 -716 556 716"><path d="M286 -710 L378 -710 L378 0 L238 0 L238 -491 L69 -491 L69 -592 C186 -594 258 -636 286 -710 Z"/></svg>92 to <svg class="o" viewBox="0 -716 556 716"><path d="M286 -710 L378 -710 L378 0 L238 0 L238 -491 L69 -491 L69 -592 C186 -594 258 -636 286 -710 Z"/></svg>207</div>
<div class="c" style="left:277.40px;top:533.00px;width:60px"><svg class="o hy" viewBox="0 -716 333 716"><path d="M34 -345 H302 V-215 H34 Z"/></svg><svg class="o" viewBox="0 -716 556 716"><path d="M286 -710 L378 -710 L378 0 L238 0 L238 -491 L69 -491 L69 -592 C186 -594 258 -636 286 -710 Z"/></svg><svg class="o k" viewBox="0 -716 556 716"><path d="M286 -710 L378 -710 L378 0 L238 0 L238 -491 L69 -491 L69 -592 C186 -594 258 -636 286 -710 Z"/></svg>.2</div>
<div class="c" style="left:350.60px;top:533.00px;width:76px"><svg class="o hy" viewBox="0 -716 333 716"><path d="M34 -345 H302 V-215 H34 Z"/></svg>38.5</div>
<div class="c" style="left:439.60px;top:533.00px;width:104px">3.0</div>
<div class="c" style="left:557.00px;top:533.00px;width:104px"><svg class="o" viewBox="0 -716 556 716"><path d="M286 -710 L378 -710 L378 0 L238 0 L238 -491 L69 -491 L69 -592 C186 -594 258 -636 286 -710 Z"/></svg>0.4</div>
<div class="c" style="left:674.00px;top:533.00px;width:95px"><svg class="o" viewBox="0 -716 556 716"><path d="M286 -710 L378 -710 L378 0 L238 0 L238 -491 L69 -491 L69 -592 C186 -594 258 -636 286 -710 Z"/></svg>309.6</div>
<div class="c" style="left:782.70px;top:533.00px;width:77px"><svg class="o" viewBox="0 -716 556 716"><path d="M286 -710 L378 -710 L378 0 L238 0 L238 -491 L69 -491 L69 -592 C186 -594 258 -636 286 -710 Z"/></svg>.<svg class="o" viewBox="0 -716 556 716"><path d="M286 -710 L378 -710 L378 0 L238 0 L238 -491 L69 -491 L69 -592 C186 -594 258 -636 286 -710 Z"/></svg>73</div>
<div class="c" style="left:873.00px;top:533.00px;width:86px">495.0</div>
<div class="c" style="left:971.40px;top:533.00px;width:64px"><svg class="o" viewBox="0 -716 556 716"><path d="M286 -710 L378 -710 L378 0 L238 0 L238 -491 L69 -491 L69 -592 C186 -594 258 -636 286 -710 Z"/></svg>.888</div>
<div class="c" style="left:1049.00px;top:533.00px;width:60px">7.7</div>
<div class="c" style="left:1122.40px;top:533.00px;width:76px">26.4</div>
<div class="t" style="top:577px;height:29px;font-size:22px;text-align:right;padding:2.2px 2.5px 0 0;">22-May-20 09:26, <a>JBM</a>/<a>jbmtraj-5.<svg class="o" viewBox="0 -716 556 716"><path d="M286 -710 L378 -710 L378 0 L238 0 L238 -491 L69 -491 L69 -592 C186 -594 258 -636 286 -710 Z"/></svg>.cgi</a></div>
</div>
</body></html>
